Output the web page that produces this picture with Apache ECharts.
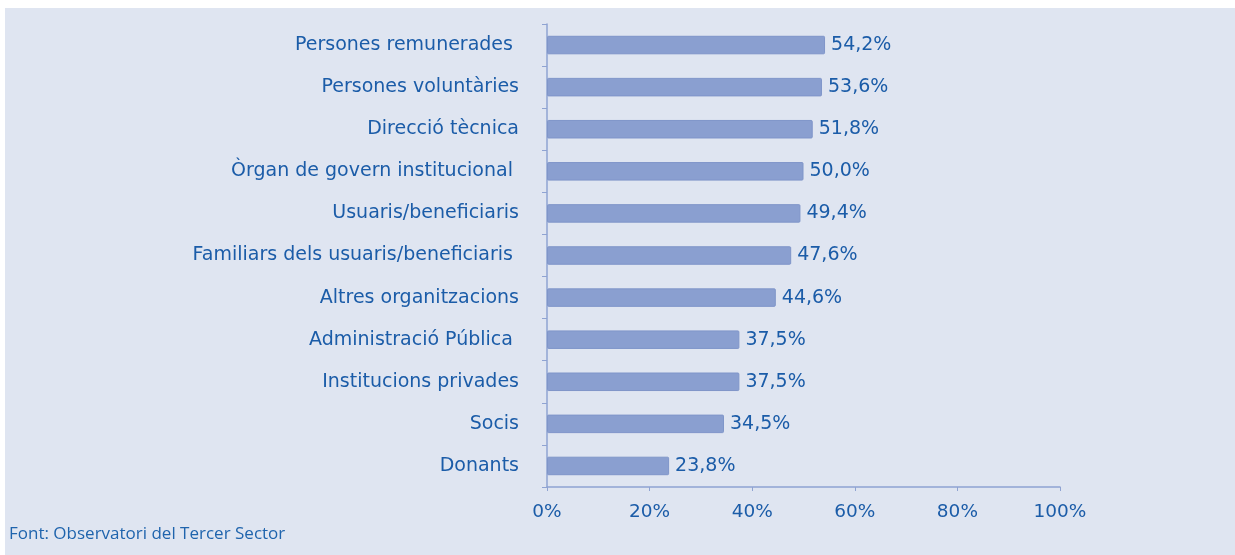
<!DOCTYPE html>
<html>
<head>
<meta charset="utf-8">
<script src="https://cdn.jsdelivr.net/npm/echarts@6/dist/echarts.min.js"></script>
<style>
html,body{margin:0;padding:0;background:#ffffff;}
#chart{position:absolute;left:5px;top:8px;width:1230px;height:547px;}
</style>
</head>
<body>
<div id="chart"></div>
<script>
const categories = [
  "Persones remunerades ",
  "Persones voluntàries",
  "Direcció tècnica",
  "Òrgan de govern institucional ",
  "Usuaris/beneficiaris",
  "Familiars dels usuaris/beneficiaris ",
  "Altres organitzacions",
  "Administració Pública ",
  "Institucions privades",
  "Socis",
  "Donants"
];
const values = [54.2, 53.6, 51.8, 50.0, 49.4, 47.6, 44.6, 37.5, 37.5, 34.5, 23.8];
const sourceNote = "Font: Observatori del Tercer Sector";

const chart = echarts.init(document.getElementById('chart'));
const textColor = '#1b5ca8';
const fontFam = 'DejaVu Sans';

chart.setOption({
  backgroundColor: '#dfe5f1',
  animation: false,
  grid: { left: 542, right: 175, top: 16, bottom: 68 },
  xAxis: {
    type: 'value',
    min: 0, max: 100, interval: 20,
    axisLine: { show: true, lineStyle: { color: '#8fa3d2', width: 1.5 } },
    axisTick: { show: true, length: 4, lineStyle: { color: '#8fa3d2' } },
    splitLine: { show: false },
    axisLabel: {
      formatter: v => v + '%',
      color: textColor, fontSize: 18.5, fontFamily: fontFam, margin: 16
    }
  },
  yAxis: {
    type: 'category',
    inverse: true,
    data: categories,
    axisLine: { show: true, lineStyle: { color: '#8fa3d2', width: 1.5 } },
    axisTick: { show: true, length: 5, lineStyle: { color: '#8fa3d2' } },
    axisLabel: { color: textColor, fontSize: 19, fontFamily: fontFam, margin: 28 }
  },
  series: [{
    type: 'bar',
    data: values,
    barCategoryGap: '56%',
    itemStyle: { color: '#8a9fd0', borderColor: '#7f95c9', borderWidth: 1, borderRadius: 1 },
    label: {
      show: true, position: 'right', distance: 6,
      formatter: p => p.value.toFixed(1).replace('.', ',') + '%',
      color: textColor, fontSize: 19, fontFamily: fontFam
    }
  }],
  graphic: [{
    type: 'text', left: 4, top: 518,
    style: { text: sourceNote, fill: '#1f64ad', fontSize: 17, fontFamily: '"Open Sans", "Noto Sans", sans-serif' }
  }]
});
</script>
</body>
</html>
